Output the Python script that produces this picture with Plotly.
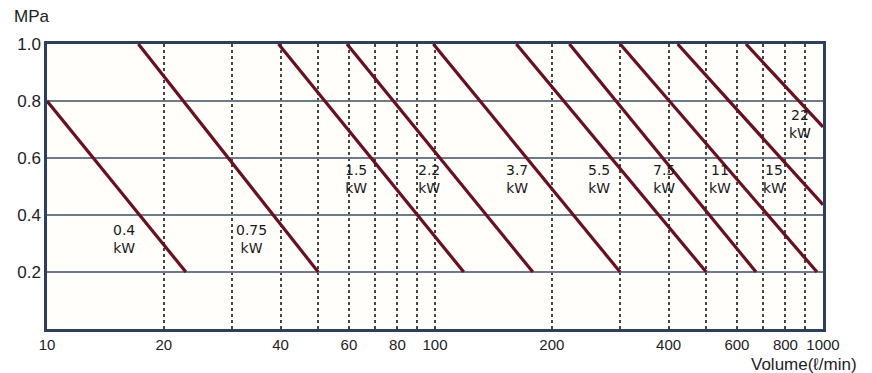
import numpy as np
import plotly.graph_objects as go

# Motor power curves: (flow start, pressure start) -> (flow end, pressure end)
powers = ["0.4", "0.75", "1.5", "2.2", "3.7", "5.5", "7.5", "11", "15", "22"]
flow_start = [10, 17.2, 39.5, 59.3, 99, 162, 222, 300, 422, 633]
press_start = [0.8, 1.0, 1.0, 1.0, 1.0, 1.0, 1.0, 1.0, 1.0, 1.0]
flow_end = [22.8, 50, 118.6, 178.7, 300, 500, 672, 965, 1000, 1000]
press_end = [0.2, 0.2, 0.2, 0.2, 0.2, 0.2, 0.2, 0.2, 0.436, 0.709]

# Label positions
label_x = [15.8, 33.7, 62.5, 96.7, 163, 265, 390, 542, 748, 874]
label_y = [0.317, 0.317, 0.527, 0.527, 0.527, 0.527, 0.527, 0.527, 0.527, 0.72]

x_tickvals = [10, 20, 30, 40, 50, 60, 70, 80, 90, 100, 200, 300, 400, 500, 600, 700, 800, 900, 1000]
x_ticktext = ["10", "20", "", "40", "", "60", "", "80", "", "100", "200", "", "400", "", "600", "", "800", "", "1000"]
y_tickvals = [0.2, 0.4, 0.6, 0.8, 1.0]
y_ticktext = ["0.2", "0.4", "0.6", "0.8", "1.0"]

LINE = "#6a0f1f"
NAVY = "#2c3f5e"
FONT = "Liberation Sans, Arial, sans-serif"
LFONT = "DejaVu Sans, Liberation Sans, sans-serif"

L, R, T, B = 47, 49, 44, 44
W, H = 872, 373
pw, ph = W - L - R, H - T - B

def px_to_paper(x, y):
    return (x - L) / pw, (H - B - y) / ph

fig = go.Figure()
for i, p in enumerate(powers):
    fig.add_trace(go.Scatter(
        x=[flow_start[i], flow_end[i]], y=[press_start[i], press_end[i]],
        mode="lines", line=dict(color=LINE, width=3.2), showlegend=False,
        hoverinfo="skip"))
    fig.add_annotation(x=np.log10(label_x[i]), y=label_y[i], xref="x", yref="y",
                       text=f"{p}<br>kW", showarrow=False, borderpad=0,
                       font=dict(family=LFONT, size=14, color="#1a1a1a"))

fig.update_layout(
    width=W, height=H,
    margin=dict(l=L, r=R, t=T, b=B),
    paper_bgcolor="white", plot_bgcolor="#fffefa",
    font=dict(family=FONT, color="#222"),
    xaxis=dict(type="log", range=[1, 3], tickmode="array", tickvals=x_tickvals,
               ticktext=x_ticktext, ticks="", showgrid=True, gridcolor="#444",
               griddash="dot", gridwidth=1.5, showline=True, linecolor=NAVY,
               linewidth=2.5, mirror=True, zeroline=False, automargin=False,
               tickfont=dict(size=15, color="#222")),
    yaxis=dict(range=[0, 1.0], tickmode="array", tickvals=y_tickvals,
               ticktext=y_ticktext, ticks="", showgrid=True, gridcolor="#6d7a8a",
               gridwidth=1.5, showline=True, linecolor=NAVY, linewidth=2.5,
               mirror=True, zeroline=False, automargin=False,
               tickfont=dict(size=17, color="#222")),
)
mx, my = px_to_paper(12, 17)
fig.add_annotation(x=mx, y=my, xref="paper", yref="paper", text="MPa",
                   showarrow=False, xanchor="left", yanchor="middle",
                   font=dict(family=FONT, size=17, color="#222"))
vx, vy = px_to_paper(859, 364)
fig.add_annotation(x=vx, y=vy, xref="paper", yref="paper", text="Volume(ℓ/min)",
                   showarrow=False, xanchor="right", yanchor="middle",
                   font=dict(family=FONT, size=17, color="#222"))

fig.write_html("out.html", config={"displayModeBar": False},
               post_script="document.body.style.margin='0px';document.body.style.overflow='hidden';")
